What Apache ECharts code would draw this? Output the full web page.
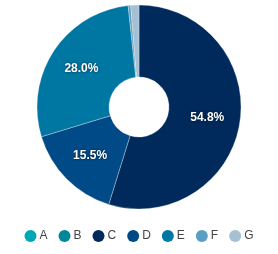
<!DOCTYPE html>
<html><head><meta charset="utf-8">
<script src="https://cdn.jsdelivr.net/npm/echarts@6/dist/echarts.min.js"></script>
<style>html,body{margin:0;padding:0;background:#fff;}#c{width:278px;height:254px;}</style>
</head><body><div id="c"></div>
<script>
const categories = ['A','B','C','D','E','F','G'];
const values = [0, 0, 54.8, 15.5, 28.0, 0.4, 1.3];
const colors = ['#00a7b5','#00879a','#002a5c','#004b87','#0077a3','#5a9fc3','#a5bfd3'];
const labelMin = 5;
const chart = echarts.init(document.getElementById('c'));
chart.setOption({
  animation: false,
  color: colors,
  legend: {
    top: 230, left: 'center', icon: 'circle', itemWidth: 12, itemHeight: 12, itemGap: 11, padding: 0,
    width: 270,
    itemStyle: { borderWidth: 0 },
    textStyle: { fontFamily: 'Liberation Sans', fontSize: 12, color: '#444', padding: [0, 0, 0, -2] },
    data: categories
  },
  series: [{
    type: 'pie', center: [139, 107], radius: [30, 102], startAngle: 90, clockwise: true,
    avoidLabelOverlap: false,
    itemStyle: { borderColor: '#fff', borderWidth: 0.3 },
    label: {
      position: 'inside', color: '#fff', fontFamily: 'Liberation Sans', fontWeight: 'bold', fontSize: 12,
      textShadowColor: 'rgba(0,0,0,0.6)', textShadowBlur: 3,
      formatter: p => p.percent.toFixed(1) + '%'
    },
    labelLine: { show: false },
    data: categories.map((n, i) => ({ name: n, value: values[i], label: { show: values[i] >= labelMin } }))
  }]
});
</script></body></html>
